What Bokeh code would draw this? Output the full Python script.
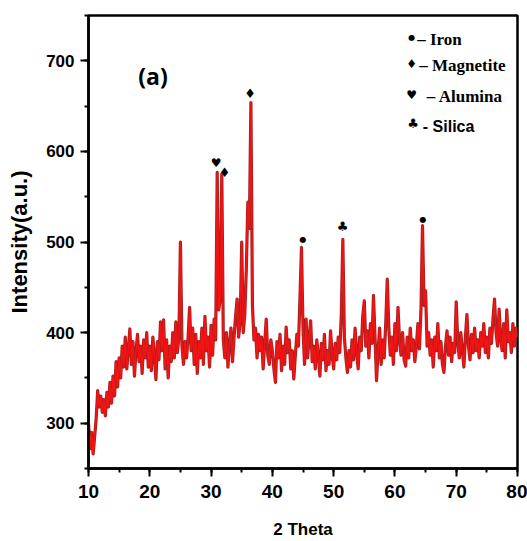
from bokeh.plotting import figure
from bokeh.models import SingleIntervalTicker, Range1d, Label, ColumnDataSource
from bokeh.embed import file_html
from bokeh.resources import INLINE
from bokeh.core.properties import value

# ---------------- data ----------------
scan_start = 10.0   # degrees 2-theta
scan_step = 0.25    # degrees per sample

intensity = [
    # 10.0 - 14.75
    300, 272, 290, 266, 285, 305, 336, 318, 330, 312, 326, 308, 334, 318, 345, 322, 352, 330, 368, 340,
    # 15.0 - 19.75
    372, 350, 385, 362, 395, 360, 382, 404, 365, 390, 352, 380, 398, 368, 385, 355, 392, 372, 400, 362,
    # 20.0 - 24.75
    385, 358, 395, 375, 348, 390, 370, 412, 380, 414, 360, 392, 350, 385, 368, 400, 372, 412, 378, 395,
    # 25.0 - 29.75
    500, 385, 365, 390, 372, 395, 428, 380, 405, 365, 398, 355, 390, 372, 405, 365, 418, 380, 395, 362,
    # 30.0 - 34.75
    408, 375, 415, 392, 577, 425, 438, 575, 392, 372, 400, 362, 388, 405, 368, 395, 418, 437, 395, 412,
    # 35.0 - 39.75
    500, 400, 420, 470, 544, 515, 654, 430, 392, 405, 372, 398, 380, 395, 360, 388, 415, 375, 365, 392,
    # 40.0 - 44.75
    380, 360, 345, 390, 372, 398, 358, 385, 365, 406, 378, 392, 360, 380, 349, 375, 398, 385, 437, 494,
    # 45.0 - 49.75
    405, 365, 415, 372, 395, 413, 368, 385, 360, 392, 375, 352, 388, 370, 398, 358, 380, 365, 402, 375,
    # 50.0 - 54.75
    360, 388, 370, 395, 378, 420, 503, 395, 372, 356, 380, 362, 392, 370, 405, 378, 360, 395, 380, 418,
    # 55.0 - 59.75
    435, 385, 402, 372, 410, 388, 441, 395, 347, 380, 405, 365, 392, 372, 410, 459, 405, 375, 395, 365,
    # 60.0 - 64.75
    410, 380, 428, 392, 375, 400, 370, 363, 395, 372, 405, 380, 392, 368, 385, 410, 382, 425, 518, 430,
    # 65.0 - 69.75
    446, 385, 400, 375, 392, 362, 395, 380, 410, 372, 390, 365, 356, 385, 402, 375, 395, 368, 388, 378,
    # 70.0 - 74.75
    434, 390, 372, 400, 380, 362, 395, 420, 385, 370, 398, 378, 405, 380, 392, 372, 400, 385, 410, 378,
    # 75.0 - 79.75
    395, 372, 405, 388, 415, 437, 400, 385, 426, 392, 380, 410, 372, 425, 390, 400, 378, 410, 385, 405,
    # 80.0
    395,
]
two_theta = [round(scan_start + scan_step * i, 2) for i in range(len(intensity))]

# phase markers above the peaks
peak_symbol = ["♥", "♦", "♦", "●", "♣", "●"]
peak_two_theta = [30.84, 32.19, 36.38, 44.98, 51.44, 64.56]
peak_marker_intensity = [587, 577, 664, 503, 517, 525]

# legend
legend_symbols = ["●", "♦", "♥", "♣"]
legend_texts = ["– Iron", "– Magnetite", "– Alumina", "- Silica"]

x_ticks_interval = 10
y_ticks_interval = 100

# ---------------- figure ----------------
p = figure(width=527, height=541,
           x_range=Range1d(10, 80), y_range=Range1d(250, 750),
           output_backend="svg", toolbar_location=None,
           min_border_left=88, min_border_right=10,
           min_border_top=15, min_border_bottom=72)

p.xgrid.visible = False
p.ygrid.visible = False
p.outline_line_color = "black"
p.outline_line_width = 2.5
p.outline_line_alpha = 1.0
p.background_fill_color = "white"
p.border_fill_color = "white"

p.xaxis.ticker = SingleIntervalTicker(interval=x_ticks_interval, num_minor_ticks=2)
p.yaxis.ticker = SingleIntervalTicker(interval=y_ticks_interval, num_minor_ticks=2)

for ax in (p.xaxis[0], p.yaxis[0]):
    ax.axis_line_color = "black"
    ax.axis_line_width = 2.5
    ax.major_tick_line_color = "black"
    ax.major_tick_line_width = 2
    ax.minor_tick_line_color = "black"
    ax.minor_tick_line_width = 2
    ax.major_tick_out = 8
    ax.major_tick_in = 0
    ax.minor_tick_out = 4
    ax.minor_tick_in = 0
    ax.major_label_text_font = "Liberation Sans Narrow, Liberation Sans, sans-serif"
    ax.major_label_text_font_style = "bold"
    ax.major_label_text_color = "black"
    ax.axis_label_text_font = "Liberation Sans"
    ax.axis_label_text_font_style = "bold"
    ax.axis_label_text_color = "black"

p.xaxis.major_label_text_font_size = "19px"
p.xaxis.major_label_standoff = 8
p.yaxis.major_label_text_font_size = "17px"
p.yaxis.major_label_standoff = 6
p.xaxis.axis_label = "2 Theta"
p.xaxis.axis_label_text_font_size = "17px"
p.xaxis.axis_label_standoff = 19
p.yaxis.axis_label = "Intensity(a.u.)"
p.yaxis.axis_label_text_font_size = "22px"
p.yaxis.axis_label_standoff = 11

# pattern line
p.line(two_theta, intensity, line_color="#a81f1f", line_width=3.2, line_join="round")
p.line(two_theta, intensity, line_color="#f01414", line_width=1.6, line_join="round")

# peak markers
marker_size = {"●": "8px", "♦": "13px", "♥": "12px", "♣": "13px"}
peak_src = ColumnDataSource(dict(
    x=peak_two_theta, y=peak_marker_intensity, t=peak_symbol,
    fs=[marker_size[s] for s in peak_symbol]))
p.text(x="x", y="y", text="t", source=peak_src, text_font=value("DejaVu Sans"),
       text_font_size="fs", text_align="center", text_baseline="middle", text_color="black")

# panel label
p.add_layout(Label(x=18.13, y=683, text="(a)", text_font="Open Sans", text_font_style="bold",
                   text_font_size="23px", text_color="black", text_baseline="alphabetic"))

# legend (symbol column + text column)
leg_sym_x = [62.73, 62.73, 62.73, 62.95]
leg_sym_y = [726.1, 696.0, 661.9, 631.1]
leg_sym_fs = ["8px", "12px", "12px", "13px"]
leg_txt_x = [63.63, 63.96, 65.21, 64.55]
leg_txt_y = [724.0, 694.6, 660.8, 627.7]

sym_src = ColumnDataSource(dict(x=leg_sym_x, y=leg_sym_y, t=legend_symbols, fs=leg_sym_fs))
p.text(x="x", y="y", text="t", source=sym_src, text_font=value("DejaVu Sans"),
       text_font_size="fs", text_align="center", text_baseline="middle", text_color="black")

serif_src = ColumnDataSource(dict(x=leg_txt_x[:3], y=leg_txt_y[:3], t=legend_texts[:3]))
p.text(x="x", y="y", text="t", source=serif_src, text_font=value("Liberation Serif"),
       text_font_style="bold", text_font_size="17px", text_align="left",
       text_baseline="alphabetic", text_color="black")

sans_src = ColumnDataSource(dict(x=leg_txt_x[3:], y=leg_txt_y[3:], t=legend_texts[3:]))
p.text(x="x", y="y", text="t", source=sans_src, text_font=value("Liberation Sans"),
       text_font_style="bold", text_font_size="16px", text_align="left",
       text_baseline="alphabetic", text_color="black")

open("out.html", "w").write(file_html(p, INLINE))
